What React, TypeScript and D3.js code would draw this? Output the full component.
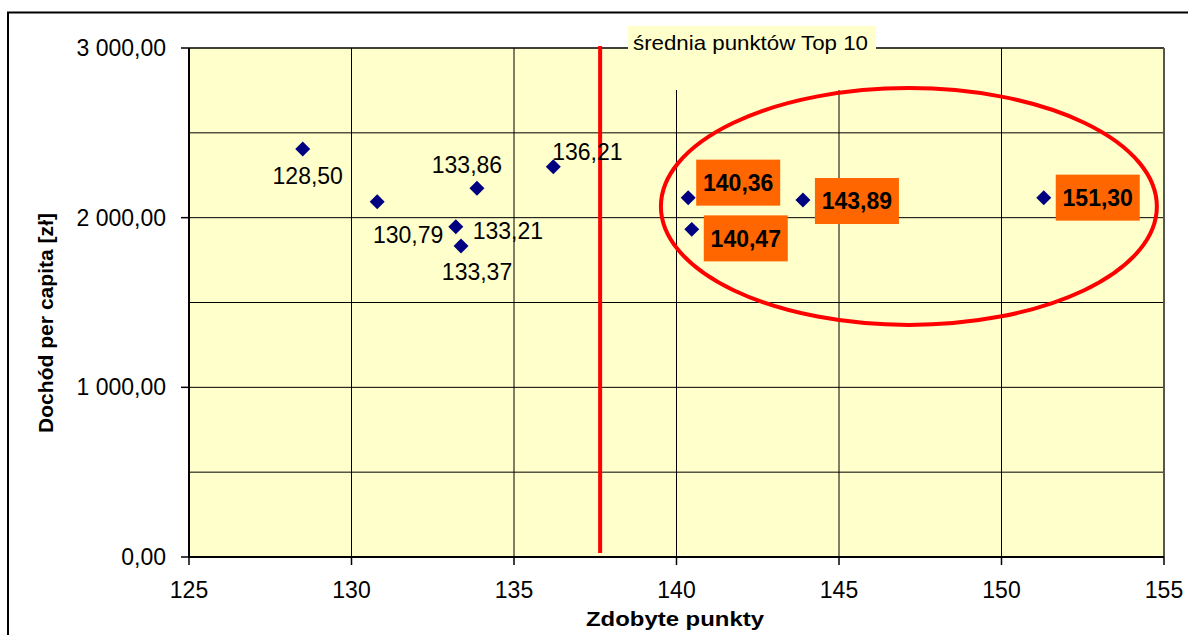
import * as d3 from "d3";

// points scored vs. income per capita
const points = [128.5, 130.79, 133.21, 133.37, 133.86, 136.21, 140.36, 140.47, 143.89, 151.3];
const income = [2405, 2094, 1947, 1833, 2173, 2300, 2118, 1931, 2104, 2118];
const top10 = [false, false, false, false, false, false, true, true, true, true];
const labelOffsets = [[5, 27], [31, 33], [52, 4], [16, 26], [-10, -24], [34, -15], [50, -15], [54, 9], [54, 1], [54, 0]];

const xTicks = [125, 130, 135, 140, 145, 150, 155];
const yTicks = [0, 1000, 2000, 3000];
const yGrid = [500, 1000, 1500, 2000, 2500];

const avgPoints = 137.65;
const avgLabel = "średnia punktów Top 10";
// circled group (center, radii) in data units
const ring = { cx: 147.15, cy: 2066, rx: 7.63, ry: 698 };

const xTitle = "Zdobyte punkty";
const yTitle = "Dochód per capita [zł]";

const pl = d3.formatLocale({ decimal: ",", thousands: "\u00a0", grouping: [3], currency: ["", " zł"] });
const fmtY = pl.format(",.2f");
const fmtX = pl.format(".2f");

const width = 1188;
const height = 635;
const left = 189, right = 1164, top = 48, bottom = 557;

export default function App() {
    const x = d3.scaleLinear([125, 155], [left, right]);
    const y = d3.scaleLinear([0, 3000], [bottom, top]);
    const diamond = d3.symbol(d3.symbolSquare, 112)();
    const font = "Arial, 'Liberation Sans', sans-serif";

    return (
        <svg width={width} height={height} style={{ position: "absolute", left: 0, top: 0 }} fontFamily={font}>
            <rect x={0} y={0} width={width} height={height} fill="#fff" />
            <rect x={8} y={12.5} width={1300} height={800} fill="none" stroke="#000" strokeWidth={2} />

            {/* plot area */}
            <rect x={left} y={top} width={right - left} height={bottom - top} fill="#FFFFCC" />
            {yGrid.map(v => (
                <line key={v} x1={left} x2={right} y1={y(v)} y2={y(v)} stroke="#000" strokeWidth={1} />
            ))}
            {xTicks.slice(1, -1).map(v => (
                <line key={v} x1={x(v)} x2={x(v)} y1={top} y2={bottom} stroke="#000" strokeWidth={1} />
            ))}
            <line x1={left} x2={right} y1={top} y2={top} stroke="#000" strokeWidth={1.5} />
            <line x1={right} x2={right} y1={top} y2={bottom} stroke="#555" strokeWidth={2} />
            <line x1={left} x2={left} y1={top} y2={bottom + 1} stroke="#000" strokeWidth={2} />
            <line x1={left - 1} x2={right} y1={bottom} y2={bottom} stroke="#000" strokeWidth={2} />

            {/* y axis */}
            {yTicks.map(v => (
                <g key={v}>
                    <line x1={left - 8} x2={left} y1={y(v)} y2={y(v)} stroke="#000" strokeWidth={1.5} />
                    <text x={166} y={y(v)} dy="0.35em" textAnchor="end" fontSize={23}>{fmtY(v)}</text>
                </g>
            ))}
            {/* x axis */}
            {xTicks.map(v => (
                <g key={v}>
                    <line x1={x(v)} x2={x(v)} y1={bottom} y2={bottom + 8} stroke="#000" strokeWidth={1.5} />
                    <text x={x(v)} y={598} textAnchor="middle" fontSize={23}>{v}</text>
                </g>
            ))}

            <text x={675} y={626} textAnchor="middle" fontSize={20} fontWeight="bold"
                textLength={178} lengthAdjust="spacingAndGlyphs">{xTitle}</text>
            <text transform="translate(53,323) rotate(-90)" textAnchor="middle" fontSize={20} fontWeight="bold"
                textLength={220} lengthAdjust="spacingAndGlyphs">{yTitle}</text>

            {/* average line label */}
            <rect x={628} y={26} width={248} height={64} fill="#FFFFCC" />
            <text x={633} y={50} fontSize={21} textLength={235} lengthAdjust="spacingAndGlyphs">{avgLabel}</text>
            <line x1={x(avgPoints)} x2={x(avgPoints)} y1={top - 2} y2={bottom - 4} stroke="#FF0000" strokeWidth={4} />

            {/* points */}
            {points.map((p, i) => (
                <path key={i} d={diamond} fill="#000080"
                    transform={`translate(${x(p)},${y(income[i])}) rotate(45)`} />
            ))}
            {points.map((p, i) => {
                const cx = x(p) + labelOffsets[i][0];
                const cy = y(income[i]) + labelOffsets[i][1];
                return (
                    <g key={i}>
                        {top10[i] && <rect x={cx - 42} y={cy - 23} width={84} height={46} fill="#FF6600" />}
                        <text x={cx} y={cy} dy="0.36em" textAnchor="middle" fontSize={23}
                            fontWeight={top10[i] ? "bold" : "normal"}>{fmtX(p)}</text>
                    </g>
                );
            })}

            <ellipse cx={x(ring.cx)} cy={y(ring.cy)} rx={x(ring.cx + ring.rx) - x(ring.cx)}
                ry={y(ring.cy - ring.ry) - y(ring.cy)} fill="none" stroke="#FF0000" strokeWidth={4} />
        </svg>
    );
}
